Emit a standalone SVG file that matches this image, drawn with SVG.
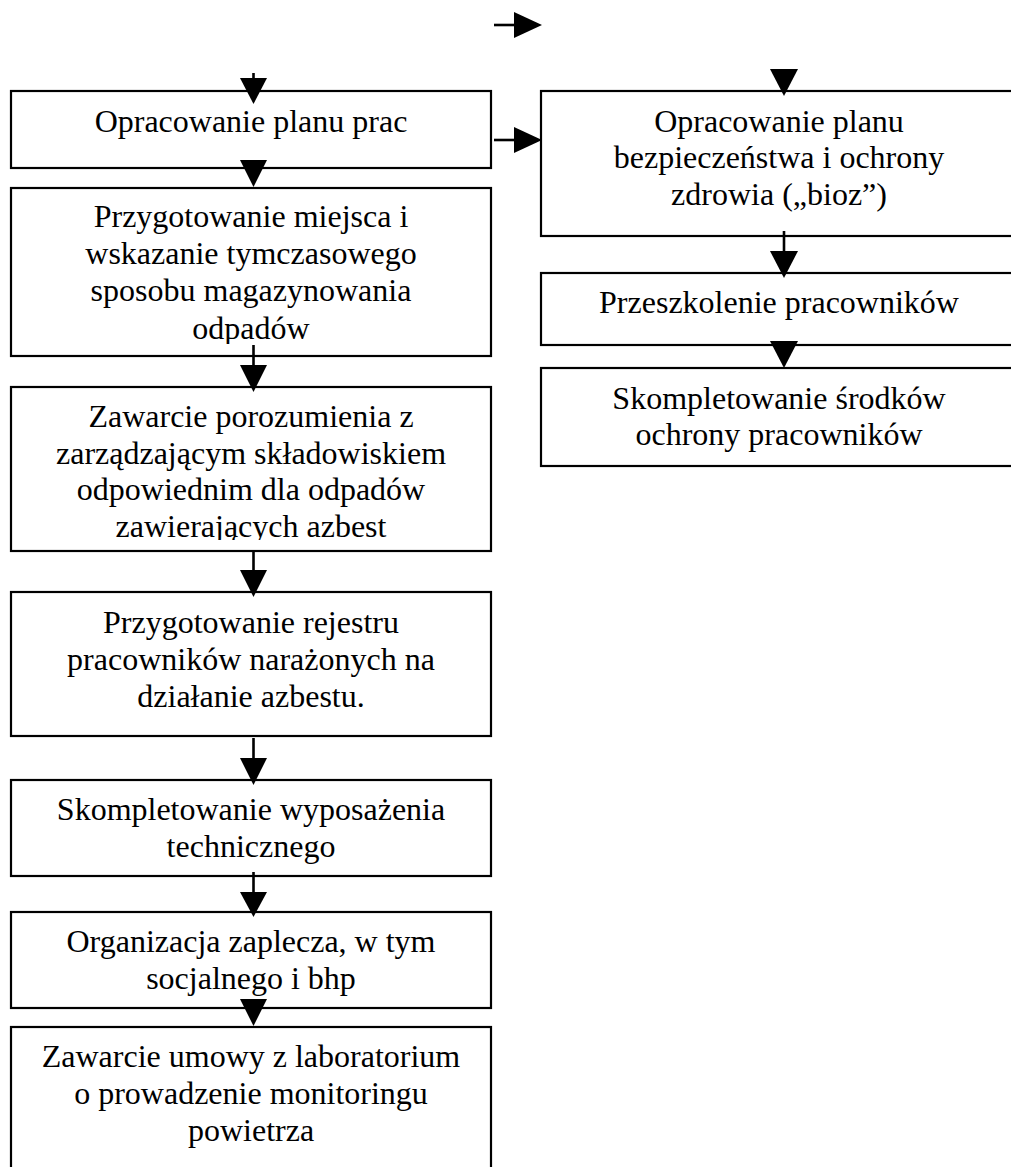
<svg xmlns="http://www.w3.org/2000/svg" width="1011" height="1167" viewBox="0 0 1011 1167">
<style>
  .box{fill:#fff;stroke:#000;stroke-width:2.2}
  .t{font-family:"Liberation Serif","Times New Roman",serif;font-size:32px;fill:#000;text-anchor:middle}
  .stem{stroke:#000;stroke-width:2.6;fill:none}
  .head{fill:#000;stroke:none}
</style>
<defs>
  <clipPath id="clipL2"><rect x="0" y="188" width="500" height="156"/></clipPath>
  <clipPath id="clipL3"><rect x="0" y="387" width="500" height="153"/></clipPath>
</defs>
<rect width="1011" height="1167" fill="#fff"/>

<g id="L1">
  <rect class="box" x="11" y="91" width="480" height="77"/>
  <text class="t" x="251" y="132">Opracowanie planu prac</text>
</g>
<g id="L2">
  <rect class="box" x="11" y="188" width="480" height="168"/>
  <g clip-path="url(#clipL2)">
    <text class="t" x="251" y="227">Przygotowanie miejsca i</text>
    <text class="t" x="251" y="264">wskazanie tymczasowego</text>
    <text class="t" x="251" y="301">sposobu magazynowania</text>
    <text class="t" x="251" y="339">odpadów</text>
  </g>
</g>
<g id="L3">
  <rect class="box" x="11" y="387" width="480" height="164"/>
  <g clip-path="url(#clipL3)">
    <text class="t" x="251" y="427">Zawarcie porozumienia z</text>
    <text class="t" x="251" y="464">zarządzającym składowiskiem</text>
    <text class="t" x="251" y="500">odpowiednim dla odpadów</text>
    <text class="t" x="251" y="537">zawierających azbest</text>
  </g>
</g>
<g id="L4">
  <rect class="box" x="11" y="592" width="480" height="144"/>
  <text class="t" x="251" y="633">Przygotowanie rejestru</text>
  <text class="t" x="251" y="670">pracowników narażonych na</text>
  <text class="t" x="251" y="707">działanie azbestu.</text>
</g>
<g id="L5">
  <rect class="box" x="11" y="780" width="480" height="96"/>
  <text class="t" x="251" y="820">Skompletowanie wyposażenia</text>
  <text class="t" x="251" y="857">technicznego</text>
</g>
<g id="L6">
  <rect class="box" x="11" y="912" width="480" height="96"/>
  <text class="t" x="251" y="952">Organizacja zaplecza, w tym</text>
  <text class="t" x="251" y="989">socjalnego i bhp</text>
</g>
<g id="L7">
  <rect class="box" x="11" y="1027" width="480" height="160"/>
  <text class="t" x="251" y="1067">Zawarcie umowy z laboratorium</text>
  <text class="t" x="251" y="1104">o prowadzenie monitoringu</text>
  <text class="t" x="251" y="1141">powietrza</text>
</g>
<g id="R1">
  <rect class="box" x="541" y="91" width="474" height="145"/>
  <text class="t" x="779" y="132">Opracowanie planu</text>
  <text class="t" x="779" y="168">bezpieczeństwa i ochrony</text>
  <text class="t" x="779" y="205">zdrowia („bioz”)</text>
</g>
<g id="R2">
  <rect class="box" x="541" y="273" width="474" height="72"/>
  <text class="t" x="779" y="313">Przeszkolenie pracowników</text>
</g>
<g id="R3">
  <rect class="box" x="541" y="368" width="474" height="98"/>
  <text class="t" x="779" y="409">Skompletowanie środków</text>
  <text class="t" x="779" y="445">ochrony pracowników</text>
</g>

<g id="connectors">
  <!-- top horizontal arrow -->
  <line class="stem" x1="494" y1="25" x2="515" y2="25"/>
  <polygon class="head" points="514,12 542,25 514,38"/>
  <!-- side arrow L1 -> R1 -->
  <line class="stem" x1="494" y1="140" x2="515" y2="140"/>
  <polygon class="head" points="514,127 542,140 514,153"/>
  <!-- into L1 -->
  <line class="stem" x1="253.5" y1="73" x2="253.5" y2="79"/>
  <polygon class="head" points="240,78 267,78 253.5,104"/>
  <!-- L1 -> L2 -->
  <polygon class="head" points="240,160 267,160 253.5,187"/>
  <!-- L2 -> L3 -->
  <line class="stem" x1="253.5" y1="345" x2="253.5" y2="366"/>
  <polygon class="head" points="240,365 267,365 253.5,392"/>
  <!-- L3 -> L4 -->
  <line class="stem" x1="253.5" y1="550" x2="253.5" y2="571"/>
  <polygon class="head" points="240,570 267,570 253.5,597"/>
  <!-- L4 -> L5 -->
  <line class="stem" x1="253.5" y1="738" x2="253.5" y2="759"/>
  <polygon class="head" points="240,758 267,758 253.5,785"/>
  <!-- L5 -> L6 -->
  <line class="stem" x1="253.5" y1="872" x2="253.5" y2="893"/>
  <polygon class="head" points="240,892 267,892 253.5,917"/>
  <!-- L6 -> L7 -->
  <polygon class="head" points="240,999 267,999 253.5,1026"/>
  <!-- into R1 -->
  <polygon class="head" points="770,69 798,69 784,96"/>
  <!-- R1 -> R2 -->
  <line class="stem" x1="784" y1="231" x2="784" y2="252"/>
  <polygon class="head" points="770,251 798,251 784,278"/>
  <!-- R2 -> R3 -->
  <polygon class="head" points="770,341 798,341 784,368"/>
</g>
</svg>
